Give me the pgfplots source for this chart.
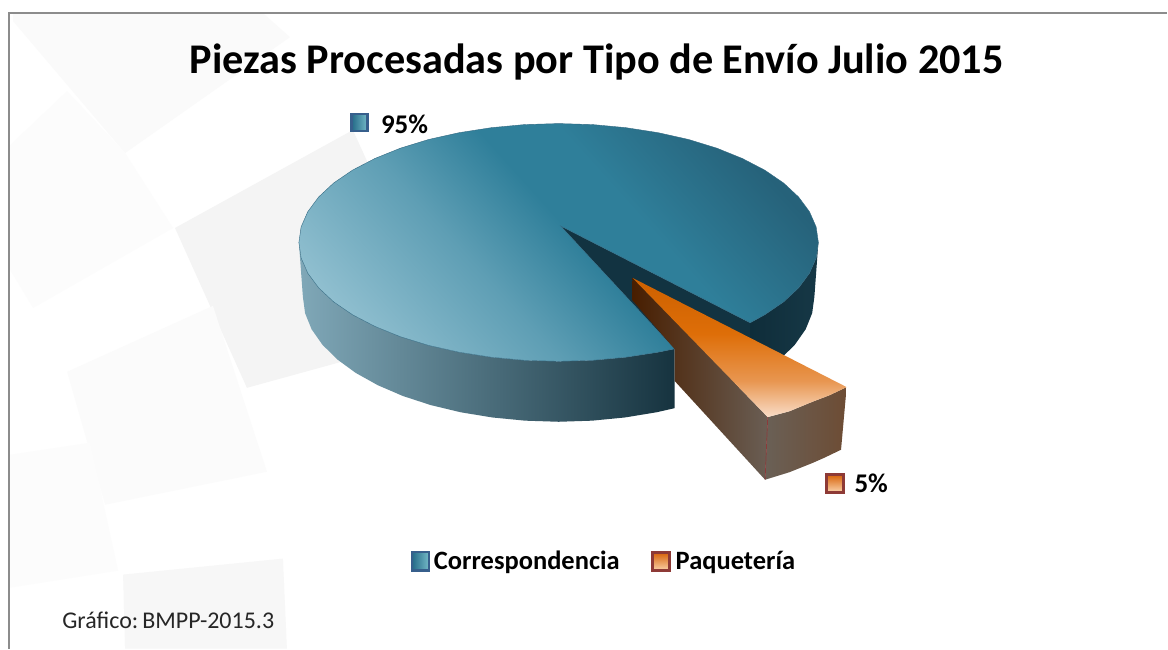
\documentclass[border=0pt]{standalone}
\usepackage{pgfplots}
\pgfplotsset{compat=1.18}
\usepackage{fontspec}
\setmainfont{Carlito}
\definecolor{tA}{HTML}{93C1D1}
\definecolor{tB}{HTML}{5E9EB4}
\definecolor{tC}{HTML}{2F7F9A}
\definecolor{tD}{HTML}{26627A}
\pgfdeclareverticalshading{topface}{100bp}{color(0bp)=(tA); color(22bp)=(tA); color(40bp)=(tB); color(52bp)=(tC); color(60bp)=(tC); color(76bp)=(tD); color(100bp)=(tD)}
\definecolor{oA}{HTML}{CC6000}
\definecolor{oB}{HTML}{DE6E08}
\definecolor{oC}{HTML}{E89650}
\definecolor{oD}{HTML}{F9DDC8}
\pgfdeclareverticalshading{orangetop}{100bp}{color(0bp)=(oD); color(25bp)=(oD); color(38bp)=(oC); color(55bp)=(oB); color(75bp)=(oA); color(100bp)=(oA)}
\begin{document}
\begin{tikzpicture}
\begin{axis}[
  width=1168pt, height=649pt, scale only axis, hide axis,
  xmin=0, xmax=1168, ymin=0, ymax=649, y dir=reverse,
  every axis plot/.append style={mark=none, forget plot},
  clip=false]
% page extent
\addplot[draw=white, fill=white] coordinates {(0,0)(1168,0)(1168,649)(0,649)} --cycle;
% background blocks
\addplot[draw=none, fill=black!2] coordinates {(13,21)(125,153)(290,37)(263,13)(13,13)} --cycle;
\addplot[draw=none, fill=black!1.2] coordinates {(10,145)(67,91)(125,153)(173,228)(33,308)(10,270)} --cycle;
\addplot[draw=none, fill=black!4.5] coordinates {(175,228)(353,130)(385,200)(385,350)(247,388)} --cycle;
\addplot[draw=none, fill=black!1.5] coordinates {(67,372)(213,306)(267,472)(105,505)} --cycle;
\addplot[draw=none, fill=black!1] coordinates {(10,455)(90,443)(118,571)(10,588)} --cycle;
\addplot[draw=none, fill=black!3] coordinates {(123,575)(283,559)(287,649)(125,649)} --cycle;
% frame
\addplot[draw=black!45, line width=2pt] coordinates {(9,649)(9,13.2)(1168,13.2)};
% inner wall
\addplot[draw=none, fill={rgb,255:red,18;green,51;blue,65}] coordinates {(561,226)(750.7,322.9)(751,380)(700,390)(675,349)} --cycle;
% right wall
\addplot[draw=none, left color={rgb,255:red,15;green,45;blue,58}, right color={rgb,255:red,22;green,56;blue,70}] coordinates {(750.7,322.9)(765.3,314.9)(784.2,302)(799.2,288)(810.1,273.3)(816.8,258)(819,242.5)(815,297)(812.8,313.3)(806.3,329.4)(795.5,344.8)(780.7,359.5)(751,379.7)} --cycle;
% front wall
\addplot[draw=none, left color={rgb,255:red,128;green,168;blue,184}, middle color={rgb,255:red,78;green,116;blue,130}, right color={rgb,255:red,22;green,51;blue,63}] coordinates {(299,242.5)(301.2,258)(307.9,273.3)(318.8,288)(333.8,302)(352.7,314.9)(375.2,326.6)(400.7,336.9)(429,345.6)(459.5,352.4)(491.7,357.4)(525.1,360.5)(559,361.5)(592.9,360.5)(626.3,357.4)(658.5,352.4)(675,349)
(675,408.4)(657,412.5)(625.3,417.7)(592.4,420.9)(559,422)(525.6,420.9)(492.7,417.7)(461,412.5)(431,405.3)(403.1,396.2)(378,385.4)(355.9,373.1)(337.3,359.5)(322.5,344.8)(311.7,329.4)(305.2,313.3)(303,297)} --cycle;
% top face
\addplot[draw={rgb,255:red,50;green,105;blue,130}, line width=0.4pt, shading=topface, shade, shading angle=-48] coordinates {(561,226)(750.7,322.9)(765.3,314.9)(784.2,302)(799.2,288)(810.1,273.3)(816.8,258)(819,242.5)(816.8,227)(810.1,211.7)(799.2,197)(784.2,183)(765.3,170.1)(742.8,158.4)(717.3,148.1)(689,139.4)(658.5,132.6)(626.3,127.6)(592.9,124.5)(559,123.5)(525.1,124.5)(491.7,127.6)(459.5,132.6)(429,139.4)(400.7,148.1)(375.2,158.4)(352.7,170.1)(333.8,183)(318.8,197)(307.9,211.7)(301.2,227)(299,242.5)(301.2,258)(307.9,273.3)(318.8,288)(333.8,302)(352.7,314.9)(375.2,326.6)(400.7,336.9)(429,345.6)(459.5,352.4)(491.7,357.4)(525.1,360.5)(559,361.5)(592.9,360.5)(626.3,357.4)(658.5,352.4)(675,349)} --cycle;
% orange side
\addplot[draw=none, left color={rgb,255:red,72;green,30;blue,0}, middle color={rgb,255:red,92;green,48;blue,10}, right color={rgb,255:red,106;green,94;blue,84}] coordinates {(633,278)(768.3,417.3)(765.7,480)(675,381)(675,349)(632.5,300)} --cycle;
% orange front
\addplot[draw=none, left color={rgb,255:red,106;green,96;blue,86}, right color={rgb,255:red,109;green,76;blue,52}] coordinates {(768.3,417.3)(790,411.5)(813,402)(830,395.5)(847.3,387.3)(841.7,450)(825,458)(813.7,463)(790,472.5)(765.7,480)} --cycle;
% orange top
\addplot[draw=none, shading=orangetop, shade] coordinates {(633,278)(847.3,387.3)(830,395.5)(813,402)(790,411.5)(768.3,417.3)} --cycle;
\addplot[draw={rgb,255:red,140;green,58;blue,58}, line width=0.7pt] coordinates {(768.3,417.3)(765.7,480)};
% swatches
\addplot[draw={rgb,255:red,55;green,95;blue,140}, line width=2.5pt, left color={rgb,255:red,35;green,105;blue,135}, right color={rgb,255:red,115;green,185;blue,198}] coordinates {(351.5,114)(367.5,114)(367.5,131)(351.5,131)} --cycle;
\addplot[draw={rgb,255:red,142;green,58;blue,54}, line width=3pt, top color={rgb,255:red,214;green,96;blue,6}, middle color={rgb,255:red,226;green,125;blue,35}, bottom color={rgb,255:red,250;green,210;blue,170}] coordinates {(827,474.5)(844,474.5)(844,492.5)(827,492.5)} --cycle;
\addplot[draw={rgb,255:red,55;green,95;blue,140}, line width=2.5pt, left color={rgb,255:red,35;green,105;blue,135}, right color={rgb,255:red,115;green,185;blue,198}] coordinates {(412,552.5)(429,552.5)(429,571)(412,571)} --cycle;
\addplot[draw={rgb,255:red,142;green,58;blue,54}, line width=3pt, top color={rgb,255:red,214;green,96;blue,6}, middle color={rgb,255:red,226;green,125;blue,35}, bottom color={rgb,255:red,250;green,210;blue,170}] coordinates {(653,552.5)(670,552.5)(670,571)(653,571)} --cycle;
% text
\node[anchor=base, inner sep=0pt, font=\fontsize{42.3}{44}\selectfont\bfseries] at (axis cs:597,73.5) {Piezas Procesadas por Tipo de Envío Julio 2015};
\node[anchor=base west, inner sep=0pt, font=\fontsize{27}{29}\selectfont\bfseries] at (axis cs:381,133) {95\%};
\node[anchor=base west, inner sep=0pt, font=\fontsize{27}{29}\selectfont\bfseries] at (axis cs:855,493) {5\%};
\node[anchor=base west, inner sep=0pt, font=\fontsize{26.5}{28}\selectfont\bfseries] at (axis cs:434,570) {Correspondencia};
\node[anchor=base west, inner sep=0pt, font=\fontsize{26.5}{28}\selectfont\bfseries] at (axis cs:676,570) {Paquetería};
\node[anchor=base west, inner sep=0pt, text=black!85, font=\fontsize{24}{26}\selectfont] at (axis cs:62,629) {Gráfico:\,BMPP-2015.3};
\end{axis}
\end{tikzpicture}
\end{document}
